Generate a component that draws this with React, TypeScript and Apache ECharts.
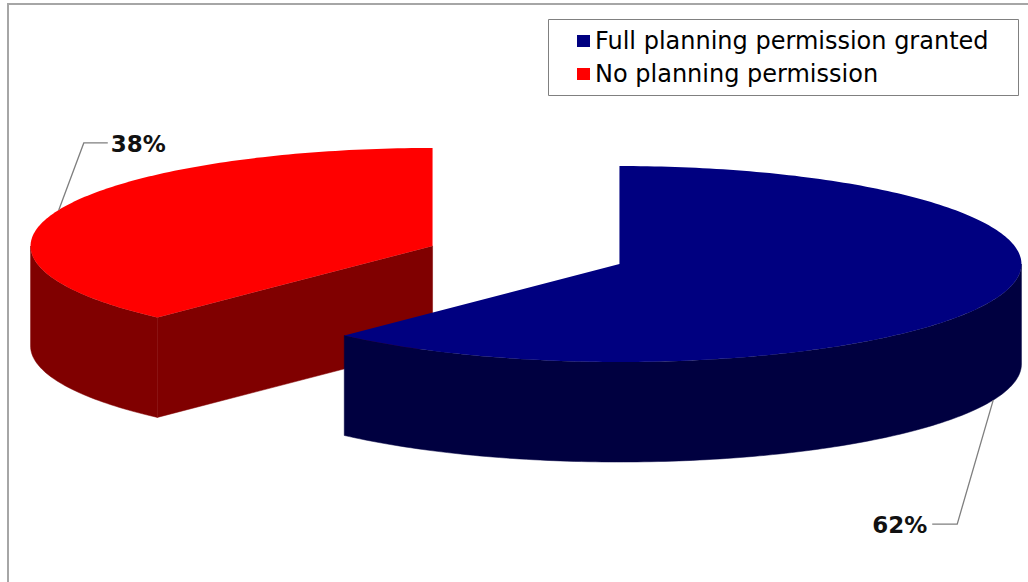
import React, { useEffect, useRef } from "react";
import * as echarts from "echarts";

// ---- data ----
const categories = ["Full planning permission granted", "No planning permission"];
const values = [62, 38];

// ---- styles / layout ----
const topColors = ["#000080", "#FF0000"];
const sideColors = ["#000040", "#800000"];
const CX = 526;
const CY = 255;
const RX = 402;
const RY = 98;
const DEPTH = 100;
const EXPLODE = 0.25;
const labelLeaders = [
  { dx: -36, dy: 124, h: -25 },
  { dx: 25, dy: -67, h: 24 },
];

const total = values.reduce((a, b) => a + b, 0);
const starts: number[] = [];
{
  let acc = 0;
  values.forEach((v) => {
    starts.push((acc / total) * 360);
    acc += v;
  });
}
const rad = (d: number) => (d * Math.PI) / 180;

function pt(cx: number, cy: number, deg: number, dy = 0): number[] {
  const r = rad(deg);
  return [cx + RX * Math.sin(r), cy - RY * Math.cos(r) + dy];
}
function arc(cx: number, cy: number, a: number, b: number, dy: number): number[][] {
  const n = Math.max(2, Math.ceil(Math.abs(b - a) / 1));
  const out: number[][] = [];
  for (let k = 0; k <= n; k++) out.push(pt(cx, cy, a + ((b - a) * k) / n, dy));
  return out;
}
function sliceCenter(i: number) {
  const s = starts[i];
  const e = s + (values[i] / total) * 360;
  const m = (s + e) / 2;
  const mr = rad(m);
  return {
    s,
    e,
    m,
    cx: CX + Math.sin(mr) * RX * EXPLODE,
    cy: CY - Math.cos(mr) * RY * EXPLODE,
  };
}

function makeRender(i: number) {
  return () => {
    const { s, e, m, cx, cy } = sliceCenter(i);
    const side = sideColors[i];
    const top = topColors[i];
    const children: any[] = [];
    const ws = Math.max(s, 90);
    const we = Math.min(e, 270);
    if (we > ws) {
      const t = arc(cx, cy, ws, we, 0);
      const b = arc(cx, cy, we, ws, DEPTH);
      children.push({ type: "polygon", shape: { points: t.concat(b) }, style: { fill: side, stroke: side, lineWidth: 0.5 }, z2: 0 });
    }
    if (Math.sin(rad(s)) < -1e-6) {
      const p = pt(cx, cy, s);
      children.push({
        type: "polygon",
        shape: { points: [[cx, cy], p, [p[0], p[1] + DEPTH], [cx, cy + DEPTH]] },
        style: { fill: side, stroke: side, lineWidth: 0.5 },
        z2: 1,
      });
    }
    if (Math.sin(rad(e)) > 1e-6) {
      const p = pt(cx, cy, e);
      children.push({
        type: "polygon",
        shape: { points: [[cx, cy], p, [p[0], p[1] + DEPTH], [cx, cy + DEPTH]] },
        style: { fill: side, stroke: side, lineWidth: 0.5 },
        z2: 1,
      });
    }
    children.push({
      type: "polygon",
      shape: { points: [[cx, cy]].concat(arc(cx, cy, s, e, 0)) },
      style: { fill: top },
      z2: 2,
    });
    const front = Math.cos(rad(m)) < 0;
    const anchor = pt(cx, cy, m, front ? DEPTH : 0);
    const L = labelLeaders[i];
    const elbow = [anchor[0] + L.dx, anchor[1] + L.dy];
    const end = [elbow[0] + L.h, elbow[1]];
    children.push({
      type: "polyline",
      shape: { points: [anchor, elbow, end] },
      style: { stroke: "#7f7f7f", lineWidth: 1.3, fill: null },
      z2: 3,
    });
    const pct = Math.round((values[i] / total) * 100) + "%";
    children.push({
      type: "text",
      x: end[0] + (L.h > 0 ? 3 : -5),
      y: end[1] + 1,
      style: {
        text: pct,
        fill: "#111",
        font: "bold 23px 'DejaVu Sans'",
        align: L.h > 0 ? "left" : "right",
        verticalAlign: "middle",
      },
      z2: 4,
    });
    return { type: "group", children };
  };
}

export default function App() {
  const ref = useRef<HTMLDivElement>(null);
  useEffect(() => {
    if (!ref.current) return;
    const chart = echarts.init(ref.current, undefined, { renderer: "svg" });
    const order = values.map((_, i) => i).sort((a, b) => sliceCenter(a).cy - sliceCenter(b).cy);
    const series = values.map((v, i) => ({
      type: "custom",
      name: categories[i],
      coordinateSystem: "none",
      renderItem: makeRender(i),
      data: [v],
      itemStyle: { color: topColors[i] },
      z: 2 + order.indexOf(i),
      silent: true,
    }));
    chart.setOption({
      animation: false,
      backgroundColor: "#ffffff",
      graphic: [
        {
          type: "rect",
          shape: { x: 8, y: 4, width: 1200, height: 800 },
          style: { fill: "none", stroke: "#a6a6a6", lineWidth: 2 },
          z: 0,
          silent: true,
        },
        {
          type: "rect",
          shape: { x: 548.5, y: 19.5, width: 470, height: 76 },
          style: { fill: "#fff", stroke: "#808080", lineWidth: 1 },
          z: 0,
          silent: true,
        },
      ],
      legend: {
        orient: "vertical",
        left: 572,
        top: 24,
        itemWidth: 13,
        itemHeight: 12,
        itemGap: 9,
        icon: "rect",
        selectedMode: false,
        data: categories,
        textStyle: { fontFamily: "DejaVu Sans", fontSize: 24, color: "#000" },
      },
      series,
    });
    return () => chart.dispose();
  }, []);
  return (
    <div
      ref={ref}
      style={{ position: "fixed", left: 0, top: 0, width: 1028, height: 582 }}
    />
  );
}
